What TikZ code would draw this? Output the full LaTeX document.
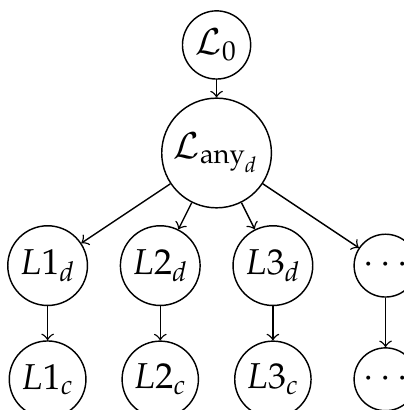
\documentclass[tikz,border=0pt]{standalone}
\usepackage{mathpazo}
\usetikzlibrary{positioning}
\tikzstyle{state} = [circle, draw=black, inner sep=1.5pt]
\tikzstyle{arrow} = [->]

\begin{document}
\begin{tikzpicture}[node distance=1.1cm, on grid]
	\useasboundingbox (0,0) rectangle (3.945,-4.004);
	\node (lany) [state] at (2.115,-1.494) {$\mathcal{L}_{\mathrm{any}_d}$};
	\node (l0) [state, above=1.055cm of lany] {$\mathcal{L}_0$};
	\node (ld1) [state, below left=1.1cm and 1.65cm of lany] {$L1_d$};
	\node (ld2) [state, right=of ld1] {$L2_d$};
	\node (ld3) [state, right=of ld2] {$L3_d$};
	\node (ldx) [state, right=of ld3] {$\cdots$};
	\node (lc1) [state, below=1.11cm of ld1] {$L1_c$};
	\node (lc2) [state, below=1.11cm of ld2] {$L2_c$};
	\node (lc3) [state, below=1.11cm of ld3] {$L3_c$};
	\node (lcx) [state, below=1.11cm of ldx] {$\cdots$};
	\draw [arrow] (l0) -- (lany);
	\draw [arrow] (lany) -- (ld1);
	\draw [arrow] (lany) -- (ld2);
	\draw [arrow] (lany) -- (ld3);
	\draw [arrow] (lany) -- (ldx);
	\draw [arrow] (ld1) -- (lc1);
	\draw [arrow] (ld2) -- (lc2);
	\draw [arrow] (ld3) -- (lc3);
	\draw [arrow] (ldx) -- (lcx);
\end{tikzpicture}
\end{document}
